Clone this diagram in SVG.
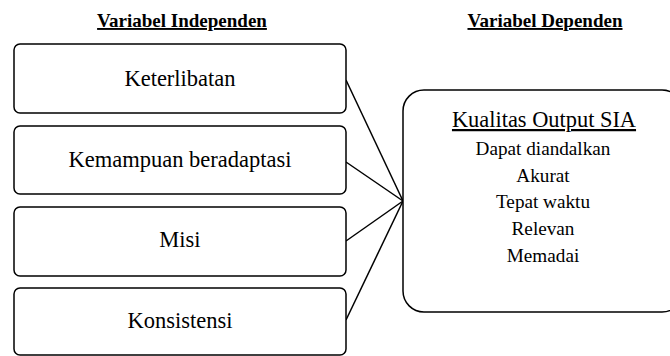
<svg xmlns="http://www.w3.org/2000/svg" width="670" height="356" viewBox="0 0 670 356">
<style>
.box{fill:#fff;stroke:#000;stroke-width:1.5}
.head{font-family:"Liberation Serif",serif;font-weight:bold;font-size:19px;text-anchor:middle;text-decoration:underline;fill:#000}
.lbl{font-family:"Liberation Serif",serif;font-size:22.5px;text-anchor:middle;fill:#000}
.item{font-family:"Liberation Serif",serif;font-size:19.2px;text-anchor:middle;fill:#000}
.title{font-family:"Liberation Serif",serif;font-size:22.4px;text-anchor:middle;text-decoration:underline;fill:#000}
.conn{stroke:#000;stroke-width:1.5;fill:none}
</style>
<rect width="670" height="356" fill="#fff"/>
<text class="head" x="182" y="27">Variabel Independen</text>
<text class="head" x="545" y="27">Variabel Dependen</text>
<g id="connectors">
<line class="conn" x1="346" y1="80" x2="403" y2="201"/>
<line class="conn" x1="346" y1="162" x2="403" y2="201"/>
<line class="conn" x1="346" y1="241" x2="403" y2="201"/>
<line class="conn" x1="346" y1="320" x2="403" y2="201"/>
</g>
<g id="keterlibatan">
<rect class="box" x="14" y="44" width="332" height="69" rx="6"/>
<text class="lbl" x="180" y="86">Keterlibatan</text>
</g>
<g id="kemampuan">
<rect class="box" x="14" y="126" width="332" height="68" rx="6"/>
<text class="lbl" x="180" y="167">Kemampuan beradaptasi</text>
</g>
<g id="misi">
<rect class="box" x="14" y="207" width="332" height="69" rx="6"/>
<text class="lbl" x="180" y="247">Misi</text>
</g>
<g id="konsistensi">
<rect class="box" x="14" y="288" width="332" height="67" rx="6"/>
<text class="lbl" x="180" y="328">Konsistensi</text>
</g>
<g id="kualitas">
<rect class="box" x="403" y="90" width="280" height="222" rx="21"/>
<text class="title" x="544" y="127">Kualitas Output SIA</text>
<text class="item" x="543" y="155">Dapat diandalkan</text>
<text class="item" x="543" y="182">Akurat</text>
<text class="item" x="543" y="208">Tepat waktu</text>
<text class="item" x="543" y="235">Relevan</text>
<text class="item" x="543" y="262">Memadai</text>
</g>
</svg>
